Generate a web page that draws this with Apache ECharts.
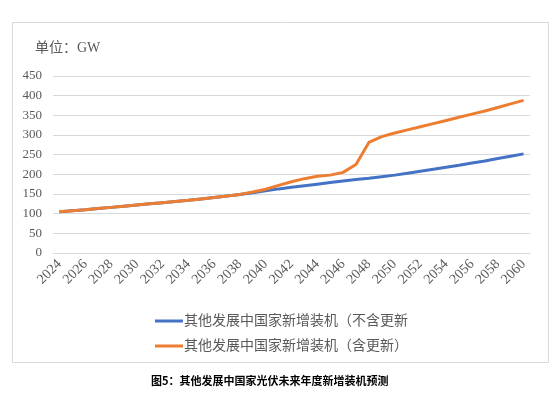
<!DOCTYPE html>
<html>
<head>
<meta charset="utf-8">
<script src="https://cdn.jsdelivr.net/npm/echarts@6/dist/echarts.min.js"></script>
<style>
html, body { margin: 0; padding: 0; background: #fff; }
#chart { width: 560px; height: 397px; }
</style>
</head>
<body>
<div id="chart"></div>
<script>
// years on the x axis
var years = [];
for (var y = 2024; y <= 2060; y++) years.push(String(y));

// new installs without replacement (GW)
var noRenewal = [105, 107.5, 110, 113, 116, 119, 122, 125, 128, 131, 134, 137.5, 141, 145, 149,
    153, 158, 163, 167, 171, 175, 179, 183, 187, 190, 194, 198, 203, 208, 213, 218, 223, 229,
    234, 240, 246, 252];

// new installs including replacement (GW)
var withRenewal = [105, 107.5, 110, 113, 116, 119, 122, 125, 128, 131, 134, 137.5, 141, 145, 149,
    155, 162, 172, 181, 189, 195, 198, 205, 225, 281, 296, 305, 313, 321, 329, 337, 345, 353,
    361, 370, 379, 388];

var seriesNames = ['其他发展中国家新增装机（不含更新', '其他发展中国家新增装机（含更新）'];

var serif = '"Liberation Serif", "Noto Sans CJK SC", serif';
var chart = echarts.init(document.getElementById('chart'));

chart.setOption({
    backgroundColor: '#fff',
    animation: false,
    title: [{
        text: '单位：GW',
        left: 30,
        top: 36,
        textStyle: { fontFamily: serif, fontSize: 14, fontWeight: 'normal', color: '#595959' }
    }, {
        text: '图5：其他发展中国家光伏未来年度新增装机预测',
        left: 146,
        top: 370,
        textStyle: { fontFamily: '"Noto Sans CJK SC", sans-serif', fontSize: 11, fontWeight: 'bold', color: '#000' }
    }],
    graphic: [{
        type: 'rect',
        shape: { x: 12.5, y: 22.5, width: 536, height: 340 },
        style: { fill: null, stroke: '#d9d9d9', lineWidth: 1 },
        silent: true
    }],
    legend: {
        orient: 'vertical',
        left: 150,
        top: 309,
        itemGap: 11,
        itemWidth: 28,
        itemHeight: 3,
        icon: 'rect',
        data: seriesNames,
        textStyle: { fontFamily: serif, fontSize: 14, color: '#595959', padding: [0, 0, 0, -4] }
    },
    grid: { left: 53, right: 30, top: 76, bottom: 144 },
    xAxis: {
        type: 'category',
        data: years,
        boundaryGap: true,
        axisLine: { lineStyle: { color: '#d9d9d9', width: 1 } },
        axisTick: { show: false },
        axisLabel: {
            interval: 1,
            rotate: 45,
            margin: 9,
            fontFamily: serif,
            fontSize: 14,
            color: '#595959'
        }
    },
    yAxis: {
        type: 'value',
        min: 0,
        max: 450,
        interval: 50,
        axisLine: { show: false },
        axisTick: { show: false },
        splitLine: { lineStyle: { color: '#d9d9d9', width: 1 } },
        axisLabel: { margin: 11, fontFamily: serif, fontSize: 13, color: '#595959' }
    },
    series: [{
        name: seriesNames[0],
        type: 'line',
        data: noRenewal,
        symbol: 'none',
        lineStyle: { color: '#4472C4', width: 3 },
        itemStyle: { color: '#4472C4' }
    }, {
        name: seriesNames[1],
        type: 'line',
        data: withRenewal,
        symbol: 'none',
        lineStyle: { color: '#ED7D31', width: 3 },
        itemStyle: { color: '#ED7D31' }
    }]
});
</script>
</body>
</html>
